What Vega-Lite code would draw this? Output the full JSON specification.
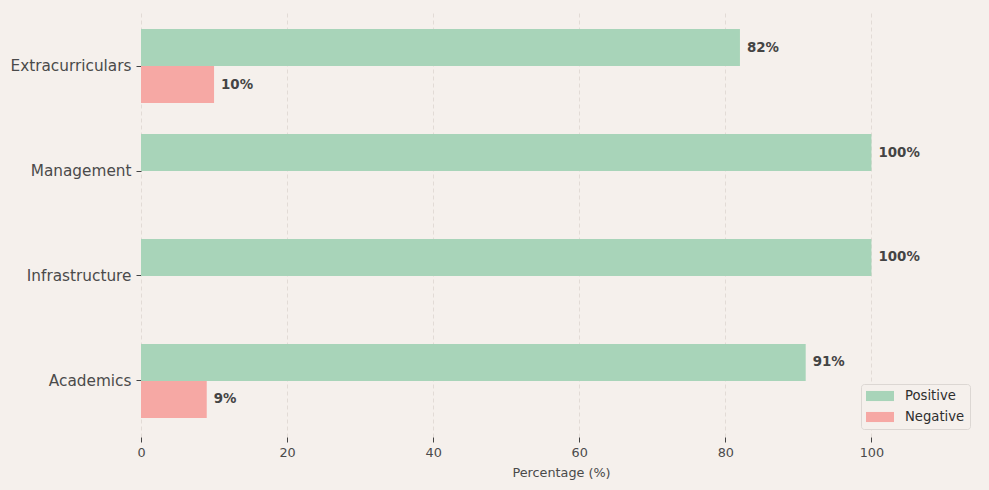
{
  "$schema": "https://vega.github.io/schema/vega-lite/v6.json",
  "autosize": "none",
  "width": 840,
  "height": 427,
  "padding": {"left": 141, "top": 10, "right": 8, "bottom": 53},
  "background": "#f5f0ec",
  "config": {
    "view": {"stroke": null},
    "font": "DejaVu Sans",
    "axis": {"domain": false, "tickColor": "#444444", "tickSize": 5, "tickWidth": 1, "labelColor": "#4a4a4a", "titleColor": "#4a4a4a", "labelFont": "DejaVu Sans", "titleFont": "DejaVu Sans", "titleFontWeight": "normal"}
  },
  "data": {
    "values": [
      {"category": "Extracurriculars", "sentiment": "Positive", "value": 82},
      {"category": "Extracurriculars", "sentiment": "Negative", "value": 10},
      {"category": "Management", "sentiment": "Positive", "value": 100},
      {"category": "Infrastructure", "sentiment": "Positive", "value": 100},
      {"category": "Academics", "sentiment": "Positive", "value": 91},
      {"category": "Academics", "sentiment": "Negative", "value": 9}
    ]
  },
  "transform": [{"calculate": "datum.value + '%'", "as": "label"}],
  "encoding": {
    "y": {
      "field": "category",
      "type": "nominal",
      "sort": ["Extracurriculars", "Management", "Infrastructure", "Academics"],
      "scale": {"paddingInner": 0.2952, "paddingOuter": 0.181},
      "axis": {"title": null, "labelFontSize": 15.3, "labelPadding": 5, "grid": false}
    },
    "yOffset": {
      "field": "sentiment",
      "type": "nominal",
      "sort": ["Positive", "Negative"],
      "scale": {"domain": ["Positive", "Negative"], "paddingInner": 0, "paddingOuter": 0}
    }
  },
  "layer": [
    {
      "mark": {"type": "bar"},
      "encoding": {
        "x": {
          "field": "value",
          "type": "quantitative",
          "scale": {"domain": [0, 115], "nice": false, "zero": true},
          "axis": {
            "title": "Percentage (%)",
            "values": [0, 20, 40, 60, 80, 100],
            "labelFlush": false,
            "labelFontSize": 12.8,
            "titleFontSize": 12.8,
            "labelPadding": 4,
            "titlePadding": 8,
            "grid": true,
            "gridColor": "#ddd6d1",
            "gridDash": [4, 3],
            "gridWidth": 0.8
          }
        },
        "color": {
          "field": "sentiment",
          "type": "nominal",
          "scale": {"domain": ["Positive", "Negative"], "range": ["#a8d4b9", "#f6a8a4"]},
          "legend": {
            "title": null,
            "orient": "none",
            "legendX": 720,
            "legendY": 374,
            "labelFontSize": 13.2,
            "labelColor": "#2e2e2e",
            "labelFont": "DejaVu Sans",
            "symbolType": "M-2,-0.72L2,-0.72L2,0.72L-2,0.72Z",
            "symbolSize": 196,
            "symbolStrokeWidth": 0,
            "symbolOpacity": 1,
            "symbolOffset": 7,
            "labelOffset": 18,
            "rowPadding": 7,
            "padding": 5,
            "fillColor": "#f5f0ec",
            "strokeColor": "#dcd7d3",
            "cornerRadius": 3
          }
        }
      }
    },
    {
      "mark": {"type": "text", "align": "left", "baseline": "middle", "dx": 7, "fontSize": 13.4, "fontWeight": "bold", "color": "#444444", "font": "DejaVu Sans"},
      "encoding": {
        "x": {"field": "value", "type": "quantitative"},
        "text": {"field": "label", "type": "nominal"}
      }
    }
  ]
}
